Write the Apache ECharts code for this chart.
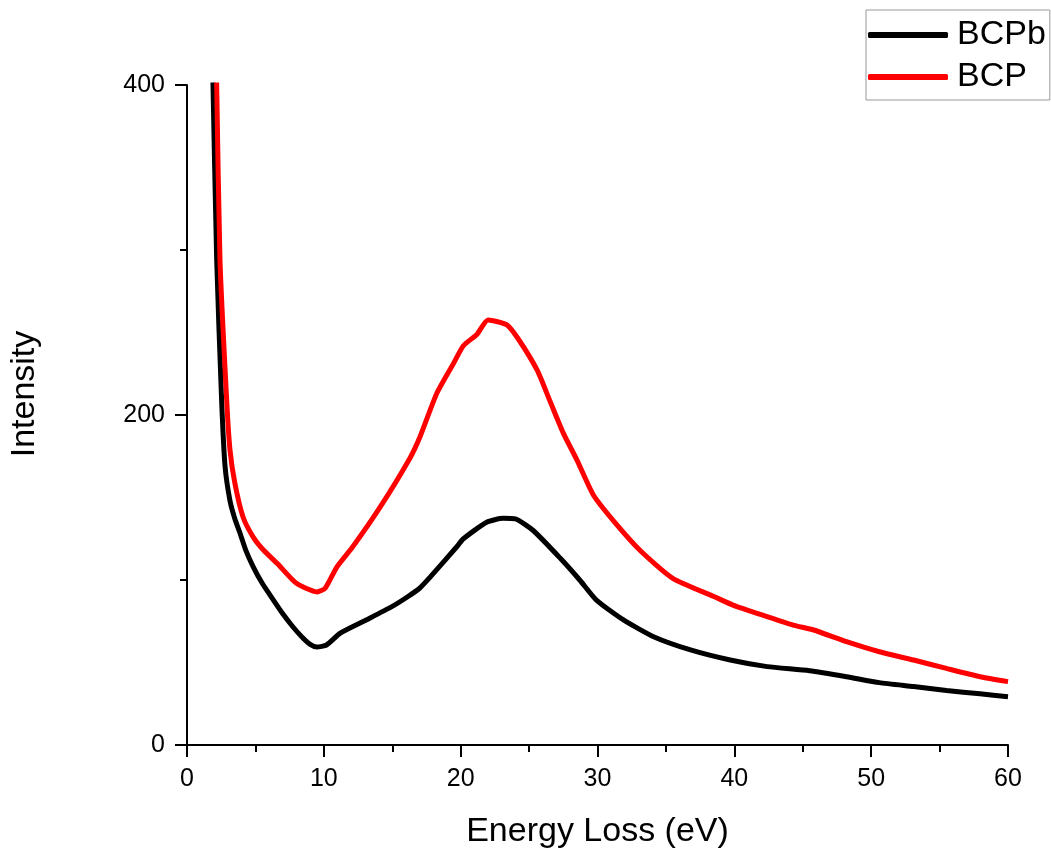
<!DOCTYPE html>
<html>
<head>
<meta charset="utf-8">
<script src="https://cdn.jsdelivr.net/npm/echarts@6/dist/echarts.min.js"></script>
<style>
html,body{margin:0;padding:0;background:#fff;}
#chart{width:1051px;height:854px;}
</style>
</head>
<body>
<div id="chart"></div>
<script>
// Energy loss (eV), intensity pairs
const bcpbX = [1.7, 1.9, 2.17, 2.53, 2.78, 3.14, 3.5, 3.87, 4.3, 4.84, 5.5, 6.3, 7.0, 7.75, 8.4, 9.0, 9.5, 10.2, 11.2, 13.1, 15.0, 16.1, 17.0, 17.8, 19.7, 20.2, 21.9, 23.1, 24.0, 25.3, 27.3, 28.7, 29.9, 31.9, 34.1, 36.8, 39.7, 42.4, 45.5, 48.2, 50.6, 53.1, 55.5, 57.95, 60];
const bcpbY = [480, 400, 294, 209, 169, 148, 137, 128.5, 118, 108, 98, 88, 79.5, 71.5, 65.5, 61, 59.4, 60.6, 67.8, 75.8, 84, 89.7, 95, 102, 120, 125, 135, 137.4, 137, 130, 113, 100, 88, 75.8, 65.6, 57.6, 51.5, 47.5, 45, 41.4, 37.8, 35.4, 33, 31, 29.3];
const bcpX = [2.0, 2.17, 2.41, 2.9, 3.14, 3.5, 4.1, 4.84, 5.6, 6.6, 8.0, 9.5, 10.1, 10.96, 12.1, 14.1, 16.3, 17.03, 18.25, 19.46, 20.2, 21.2, 22.0, 23.4, 24.3, 25.6, 26.5, 27.5, 28.5, 29.7, 31.2, 33.1, 35.5, 38.5, 39.9, 42.4, 44.3, 45.8, 48.2, 50.6, 53.1, 55.5, 57.95, 60];
const bcpY = [475, 400, 294, 209, 179, 158.6, 138, 126, 118, 110, 98, 92.8, 95, 108, 120, 144, 174, 186.8, 213, 231, 242, 249, 257.6, 254.5, 245, 227, 209, 189, 172.7, 151.5, 135.5, 118, 101, 90, 84.8, 77.8, 72.7, 69.7, 62.6, 56.5, 51.5, 46.4, 41.4, 38.4];
const seriesNames = ['BCPb', 'BCP'];
const xTitle = 'Energy Loss (eV)';
const yTitle = 'Intensity';

const zip = (xs, ys) => xs.map((x, i) => [x, ys[i]]);
const FONT = 'Liberation Sans, Arial, sans-serif';

const chart = echarts.init(document.getElementById('chart'), null, {renderer: 'canvas'});
const axisCommon = {
  axisLine: {show: true, onZero: false, lineStyle: {color: '#000', width: 2}},
  axisTick: {show: true, inside: false, length: 12, lineStyle: {color: '#000', width: 2}},
  minorTick: {show: true, splitNumber: 2, length: 7, lineStyle: {color: '#000', width: 2}},
  splitLine: {show: false},
  axisLabel: {color: '#000', fontSize: 25, fontFamily: FONT, margin: 22},
  nameLocation: 'middle',
  nameTextStyle: {color: '#000', fontSize: 34, fontFamily: FONT}
};
chart.setOption({
  animation: false,
  backgroundColor: '#fff',
  grid: {left: 187, right: 43, top: 85, bottom: 109, containLabel: false},
  xAxis: Object.assign({}, axisCommon, {
    type: 'value', min: 0, max: 60, interval: 10,
    name: xTitle, nameGap: 70
  }),
  yAxis: Object.assign({}, axisCommon, {
    type: 'value', min: 0, max: 400, interval: 200,
    name: yTitle, nameGap: 145,
    nameTextStyle: {color: '#000', fontSize: 34, fontFamily: FONT, padding: [0, 0, 0, 42]}
  }),
  legend: {
    orient: 'vertical', left: 866, top: 10,
    data: seriesNames,
    icon: 'roundRect', itemWidth: 80, itemHeight: 6, itemGap: 8,
    padding: [8, 4, 6, 2],
    borderColor: '#999', borderWidth: 1,
    textStyle: {color: '#000', fontSize: 34, fontFamily: FONT, padding: [0, 0, 0, 4]}
  },
  series: [
    {name: seriesNames[0], type: 'line', data: zip(bcpbX, bcpbY), showSymbol: false, symbol: 'none', clip: true,
     lineStyle: {color: '#000', width: 5}, itemStyle: {color: '#000'}, smooth: 0.2, z: 2},
    {name: seriesNames[1], type: 'line', data: zip(bcpX, bcpY), showSymbol: false, symbol: 'none', clip: true,
     lineStyle: {color: '#ff0000', width: 5}, itemStyle: {color: '#ff0000'}, smooth: 0.2, z: 3}
  ]
});
</script>
</body>
</html>
